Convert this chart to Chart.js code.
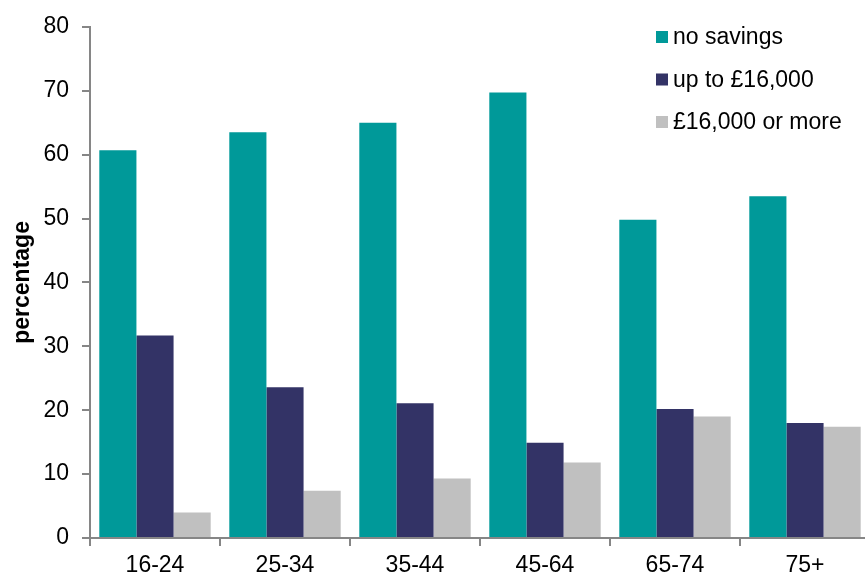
<!DOCTYPE html>
<html>
<head>
<meta charset="utf-8">
<script src="https://cdn.jsdelivr.net/npm/chart.js@4.4.1/dist/chart.umd.min.js"></script>
<style>
html, body { margin: 0; padding: 0; background: #fff; overflow: hidden; }
#wrap { width: 880px; height: 577px; }
</style>
</head>
<body>
<div id="wrap"><canvas id="chart" width="880" height="577"></canvas></div>
<script>
// data
const ageGroups = ['16-24', '25-34', '35-44', '45-64', '65-74', '75+'];
const noSavings = [60.7, 63.5, 65.0, 69.7, 49.8, 53.5];
const upTo16k = [31.7, 23.6, 21.1, 14.9, 20.2, 18.0];
const over16k = [4.0, 7.4, 9.3, 11.8, 19.0, 17.4];
const seriesNames = ['no savings', 'up to £16,000', '£16,000 or more'];
const seriesColors = ['#009999', '#333366', '#c0c0c0'];
const yMin = 0, yMax = 80, yStep = 10;

const FONT = '"Liberation Sans", Arial, sans-serif';
const axisGrey = '#868686';

// legend drawn inside the plot, top right
const legendBox = {
    id: 'legendBox',
    afterDraw(chart) {
        const ctx = chart.ctx;
        const area = chart.chartArea;
        ctx.save();
        ctx.font = '23px ' + FONT;
        ctx.textBaseline = 'middle';
        chart.data.datasets.forEach((ds, i) => {
            const y = 37 + i * 42.5;
            ctx.fillStyle = ds.backgroundColor;
            ctx.fillRect(area.right - 214, y - 6, 12, 12);
            ctx.fillStyle = '#000';
            ctx.fillText(ds.label, area.right - 197, y + 1);
        });
        ctx.restore();
    }
};

const ctx = document.getElementById('chart');
new Chart(ctx, {
    type: 'bar',
    data: {
        labels: ageGroups,
        datasets: [
            { label: seriesNames[0], data: noSavings, backgroundColor: seriesColors[0] },
            { label: seriesNames[1], data: upTo16k, backgroundColor: seriesColors[1] },
            { label: seriesNames[2], data: over16k, backgroundColor: seriesColors[2] }
        ]
    },
    options: {
        responsive: false,
        animation: false,
        layout: { padding: { top: 16, right: 10, left: 0, bottom: 0 } },
        datasets: {
            bar: { categoryPercentage: 0.857, barPercentage: 1.0, borderWidth: 0 }
        },
        plugins: {
            legend: { display: false },
            tooltip: { enabled: false }
        },
        scales: {
            x: {
                afterFit(scale) { scale.height = 39; },
                grid: {
                    offset: true,
                    drawOnChartArea: false,
                    drawTicks: true,
                    tickLength: 8,
                    color: axisGrey,
                    lineWidth: 2
                },
                border: { color: axisGrey, width: 2 },
                ticks: {
                    color: '#000',
                    padding: 6,
                    font: { family: FONT, size: 23 }
                }
            },
            y: {
                min: yMin,
                max: yMax,
                afterFit(scale) { scale.width = 90; },
                grid: {
                    drawOnChartArea: false,
                    drawTicks: true,
                    tickLength: 8,
                    color: axisGrey,
                    lineWidth: 2
                },
                border: { color: axisGrey, width: 2 },
                ticks: {
                    stepSize: yStep,
                    color: '#000',
                    padding: 13,
                    font: { family: FONT, size: 23 }
                },
                title: {
                    display: true,
                    text: 'percentage',
                    color: '#000',
                    padding: { top: 9, bottom: 0 },
                    font: { family: FONT, size: 23, weight: 'bold' }
                }
            }
        }
    },
    plugins: [legendBox]
});
</script>
</body>
</html>
